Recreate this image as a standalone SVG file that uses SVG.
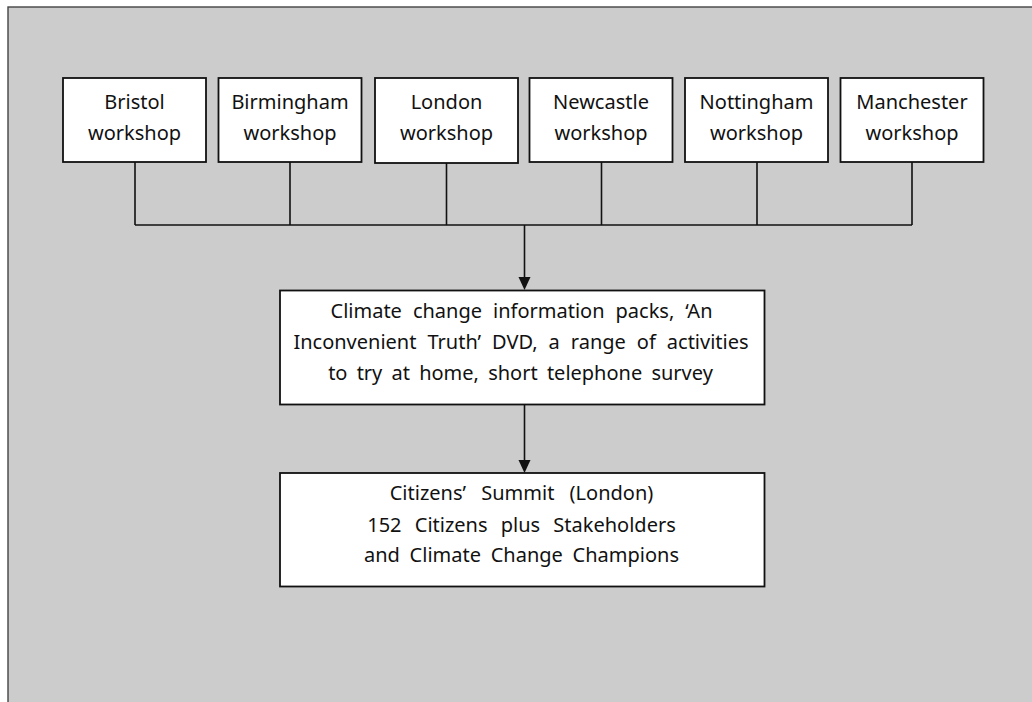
<svg xmlns="http://www.w3.org/2000/svg" width="1032" height="702" viewBox="0 0 1032 702">
<defs>
<style>
.bg{fill:#cccccc;stroke:#444444;stroke-width:1.4}
.box{fill:#ffffff;stroke:#111111;stroke-width:1.8}
.ln{fill:none;stroke:#111111;stroke-width:1.6}
.ah{fill:#111111}
text{font-family:"Noto Sans","Open Sans","DejaVu Sans",sans-serif;font-size:20px;fill:#111111;text-anchor:middle}
</style>
</defs>
<rect class="bg" x="8" y="7" width="1040" height="710"/>
<g id="connectors">
<path class="ln" d="M135,162 V225 M290,162 V225 M446.5,162 V225 M601.5,162 V225 M757,162 V225 M912,162 V225 M135,225 H912"/>
<line class="ln" x1="524.5" y1="225" x2="524.5" y2="278"/>
<path class="ah" d="M518.5,277 L530.5,277 L524.5,290 Z"/>
<line class="ln" x1="524.5" y1="404" x2="524.5" y2="461"/>
<path class="ah" d="M518.5,460 L530.5,460 L524.5,473 Z"/>
</g>
<g id="bristol"><rect class="box" x="63" y="78" width="143" height="84"/><text x="134.5" y="109">Bristol</text><text x="134.5" y="140">workshop</text></g>
<g id="birmingham"><rect class="box" x="218.5" y="78" width="143" height="84"/><text x="290" y="109">Birmingham</text><text x="290" y="140">workshop</text></g>
<g id="london"><rect class="box" x="375" y="78" width="143" height="85"/><text x="446.5" y="109">London</text><text x="446.5" y="140">workshop</text></g>
<g id="newcastle"><rect class="box" x="529.5" y="78" width="143" height="84"/><text x="601" y="109">Newcastle</text><text x="601" y="140">workshop</text></g>
<g id="nottingham"><rect class="box" x="685" y="78" width="143" height="84"/><text x="756.5" y="109">Nottingham</text><text x="756.5" y="140">workshop</text></g>
<g id="manchester"><rect class="box" x="840.5" y="78" width="143" height="84"/><text x="912" y="109">Manchester</text><text x="912" y="140">workshop</text></g>
<g id="packs"><rect class="box" x="280" y="290.5" width="484.5" height="114"/>
<text x="521.5" y="318" word-spacing="5.8">Climate change information packs, ‘An</text>
<text x="521" y="349" word-spacing="5.8">Inconvenient Truth’ DVD, a range of activities</text>
<text x="520.5" y="380" word-spacing="4">to try at home, short telephone survey</text></g>
<g id="summit"><rect class="box" x="280" y="473" width="484.5" height="113.5"/>
<text x="521.5" y="500" word-spacing="10">Citizens’ Summit (London)</text>
<text x="521.5" y="532" word-spacing="8">152 Citizens plus Stakeholders</text>
<text x="521.5" y="562" word-spacing="4.5">and Climate Change Champions</text></g>
</svg>
